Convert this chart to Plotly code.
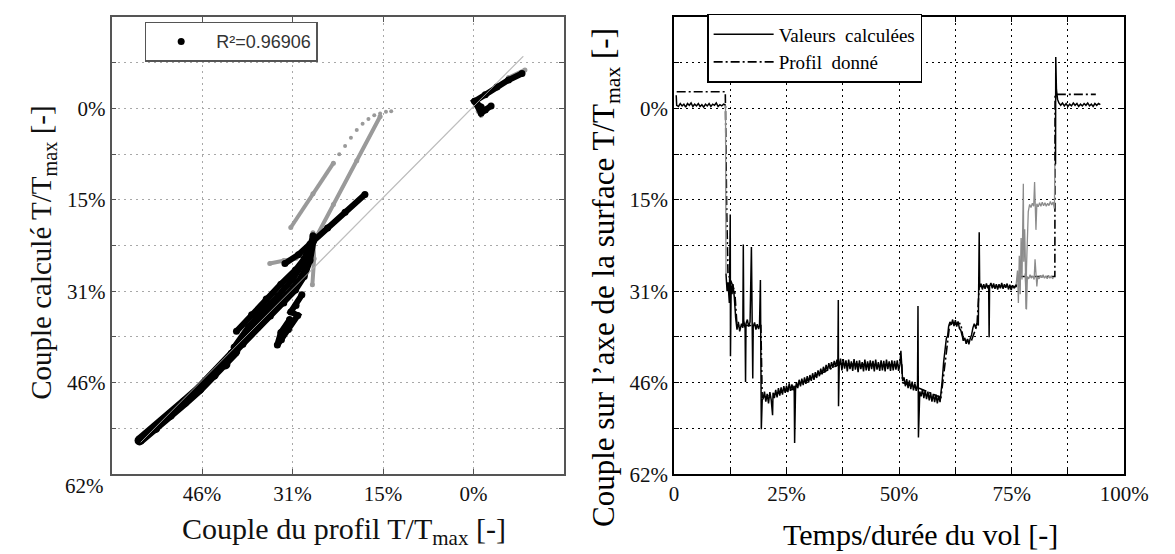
import plotly.graph_objects as go

# ---------------- LEFT PANEL: calculated vs given profile (T/Tmax, %) ----------------
# thick black streak at the low end (profile %, calculated %)
band_x = [57.2, 54.5, 52.0, 49.5, 47.0, 44.5, 42.5, 40.8]
band_y = [56.3, 54.2, 52.0, 49.8, 47.6, 45.2, 43.4, 41.2]
# thinner black streaks, None separates strokes
blk_x = [42.0, 39.5, 37.0, 34.8, 32.5, 30.5, 29.0, 28.0, 27.4, None,
         41.0, 38.5, 36.0, 33.5, 31.0, 29.0, 28.0, 27.5, None,
         40.6, 38.0, 35.5, 33.0, 30.5, 29.0, 28.2, None,
         41.5, 39.0, 36.8, 34.5, 32.0, 30.0, 28.6, None,
         29.4, 30.4, 31.3, 30.1, 31.7, 32.9, 33.6, 33.0, 31.5, None,
         32.3, 30.0, 28.0, 25.0, 22.0, 18.6, None,
         -1.3, -0.2, -2.0, -4.0, -6.0, -8.3, None,
         -0.2, -1.3, -2.0, -3.0]
blk_y = [42.5, 40.0, 37.2, 35.2, 33.0, 30.8, 28.5, 25.8, 22.5, None,
         40.5, 37.0, 34.2, 31.8, 29.0, 26.0, 23.5, 21.6, None,
         37.8, 35.0, 32.3, 29.8, 27.4, 25.5, 23.8, None,
         41.5, 38.6, 36.0, 33.9, 31.6, 29.3, 27.0, None,
         31.6, 33.4, 34.5, 35.1, 37.5, 39.2, 40.1, 38.0, 35.8, None,
         26.3, 24.8, 23.0, 20.3, 17.6, 14.6, None,
         -0.2, -1.2, -2.3, -3.6, -4.8, -5.9, None,
         -1.2, 0.8, 0.3, -0.4]
# grey point streaks
gry_x = [34.9, 32.5, 30.4, 27.8, 24.0, 20.0, 16.0, None,
         31.3, 27.5, 24.0, None,
         27.5, 27.3, 27.6, None,
         -0.8, -1.3, None,
         -6.0, -8.8]
gry_y = [26.3, 25.8, 25.4, 23.4, 16.3, 8.9, 1.4, None,
         20.2, 14.5, 9.3, None,
         21.1, 25.5, 29.9, None,
         0.5, 1.2, None,
         -5.2, -6.5]
# sparse grey dots at the top of the upper grey streak
gdot_x = [23.0, 22.0, 21.0, 20.0, 19.0, 18.0, 17.0, 16.0, 15.0, 14.1]
gdot_y = [7.8, 6.4, 5.0, 3.7, 2.6, 1.8, 1.2, 0.9, 0.6, 0.5]
# light reference line
diag_x = [57.0, -8.5]
diag_y = [56.6, -8.8]
r2_label = "R²=0.96906"

# ---------------- RIGHT PANEL: time series ----------------
calc_x = [0.5, 0.6,
          1.0, 1.4, 1.8, 2.2, 2.6, 3.0, 3.4, 3.8, 4.2, 4.6, 5.0, 5.4, 5.8, 6.2, 6.6, 7.0, 7.4, 7.8,
          8.2, 8.6, 9.0, 9.4, 9.8, 10.2, 10.6, 11.0, 11.3, 11.45, None,
          11.55, 11.8, 12.0, 12.3, 12.5, 12.55, 12.7, 12.9, 13.1, 13.4, 13.7, 14.0, 14.3, 14.6, 15.0,
          15.3, 15.4, 15.5, 15.8, 15.9, 16.0, 16.3, 16.6, 16.9, 17.2, 17.3, 17.5, 17.6, 17.9, 18.2,
          18.5, 18.8, 19.0, 19.2, 19.3, 19.4, 19.6,
          19.8, 20.1, 20.4, 20.7, 21.0, 21.3, 21.6, 21.9, 22.0, 22.3, 22.6, 22.9, 23.2, 23.5, 23.8,
          24.1, 24.4, 24.7, 25.0, 25.3, 25.6, 25.9, 26.2, 26.5, 26.7, 26.8, 27.0, 27.2,
          27.5, 27.8, 28.1, 28.4, 28.7, 29.0, 29.3, 29.6, 29.9, 30.2, 30.5, 30.8, 31.1, 31.4, 31.7,
          32.0, 32.3, 32.6, 32.9, 33.2, 33.5, 33.8, 34.1, 34.4, 34.7, 35.0, 35.3, 35.6, 35.9, 36.2,
          36.4, 36.5, 36.55, 36.7, 37.0,
          37.3, 37.6, 37.9, 38.2, 38.5, 38.8, 39.1, 39.4, 39.7, 40.0, 40.3, 40.6, 40.9, 41.2, 41.5,
          41.8, 42.1, 42.4, 42.7, 43.0, 43.3, 43.6, 43.9, 44.2, 44.5, 44.8, 45.1, 45.4, 45.7, 46.0,
          46.3, 46.6, 46.9, 47.2, 47.5, 47.8, 48.1, 48.4, 48.7, 49.0, 49.3, 49.6, 49.9, 50.2,
          50.4, 50.6, 50.8,
          51.1, 51.4, 51.7, 52.0, 52.3, 52.6, 52.9, 53.2, 53.5, 53.8, 54.1, 54.2, 54.3, 54.6,
          54.9, 55.2, 55.5, 55.8, 56.1, 56.4, 56.7, 57.0, 57.3, 57.6, 57.9, 58.2, 58.5, 58.8, 59.1, 59.3,
          59.6, 59.9, 60.2, 60.5, 60.8, 61.0, 61.3,
          61.6, 61.9, 62.2, 62.5, 62.8, 63.1, 63.4, 63.7,
          64.0, 64.3, 64.6, 64.9, 65.2, 65.5, 65.8, 66.1, 66.4, 66.7, 67.0, 67.3, 67.6,
          67.7, 67.8, 67.9, 68.2, 68.5, 68.8, 69.1, 69.4, 69.7, 69.9, 70.0, 70.1, 70.4, 70.7, 71.0,
          71.3, 71.6, 71.9, 72.2, 72.5, 72.8, 73.1, 73.4, 73.7, 74.0, 74.3, 74.6, 74.9, 75.2, 75.6, 76.0,
          None,
          84.75, 84.8, 84.95, 85.2, 85.5,
          85.9, 86.3, 86.7, 87.1, 87.5, 87.9, 88.3, 88.7, 89.1, 89.5, 89.9, 90.3, 90.7, 91.1, 91.5,
          91.9, 92.3, 92.7, 93.1, 93.5, 93.9, 94.3, 94.7]
calc_y = [-2.2, -0.5,
          -0.3, -0.8, -0.4, -0.7, -0.2, -0.8, -0.5, -0.9, -0.3, -0.7, -0.4, -0.8, -0.3, -0.6, -0.2, -0.7, -0.4, -0.8,
          -0.3, -0.7, -0.5, -0.9, -0.3, -0.6, -0.4, -0.7, -0.6, -0.5, None,
          28.0, 31.0, 29.5, 33.0, 18.0, 42.0, 30.0, 31.5, 29.8, 32.0, 35.5, 37.5, 36.2, 37.8, 36.5,
          37.2, 23.1, 36.0, 37.3, 46.4, 36.5, 35.8, 37.0, 36.2, 23.5, 36.5, 45.8, 37.0, 36.3, 37.5,
          36.6, 37.4, 36.8, 29.1, 37.0, 54.4, 49.4,
          49.2, 48.0, 49.7, 48.4, 50.0, 48.1, 49.4, 52.0, 48.2, 49.1, 47.7, 49.0, 47.4, 48.7, 47.3,
          48.5, 47.1, 48.2, 47.0, 48.1, 46.6, 47.9, 46.8, 47.8, 47.0, 56.7, 47.7, 46.4,
          47.4, 46.0, 47.1, 45.8, 46.9, 45.6, 46.7, 45.4, 46.5, 45.2, 46.2, 44.9, 46.0, 44.7, 45.7,
          44.4, 45.4, 44.1, 45.1, 43.8, 44.8, 43.5, 44.5, 43.2, 44.2, 43.0, 44.0, 42.8, 43.8, 42.6,
          43.6, 32.5, 50.5, 43.7, 42.4,
          44.4, 42.5, 44.1, 42.7, 44.6, 42.6, 44.2, 42.9, 44.5, 42.5, 44.3, 42.8, 44.7, 42.7, 44.2,
          43.0, 44.6, 42.6, 44.4, 42.9, 44.5, 42.7, 44.2, 42.8, 44.6, 42.6, 44.3, 43.0, 44.5, 42.7,
          44.4, 42.8, 44.6, 42.6, 44.2, 42.9, 44.5, 42.7, 44.4, 42.8, 44.3, 42.7, 44.5, 43.4,
          41.1, 43.8, 46.2,
          45.6, 47.1, 45.9, 47.4, 46.1, 47.6, 46.3, 47.8, 46.6, 47.9, 46.8, 33.5, 55.8, 48.0,
          48.8, 47.6, 49.1, 47.8, 49.3, 48.0, 49.5, 48.2, 49.7, 48.4, 49.8, 48.5, 50.0, 48.7, 49.8, 48.5,
          46.0, 43.0, 40.5, 39.0, 38.5, 37.0, 36.2,
          36.7, 35.8, 36.9, 35.9, 37.0, 36.1, 37.3, 37.6,
          38.6, 39.4, 38.9, 39.9, 39.1, 40.0, 39.0, 38.4, 37.2, 36.5, 37.2, 36.4, 36.8,
          30.5, 21.0, 30.2, 29.7, 30.7, 29.8, 30.6, 29.7, 30.5, 30.0, 38.8, 30.2, 29.6, 30.5, 29.7,
          30.6, 29.8, 30.7, 29.8, 30.5, 29.6, 30.6, 29.8, 30.4, 29.7, 30.7, 29.9, 30.8, 30.0, 30.5, 29.9,
          None,
          9.5, -8.7, -3.2, -1.5, -0.9,
          -0.5, -0.9, -0.4, -0.8, -0.3, -0.7, -0.4, -0.9, -0.5, -0.8, -0.3, -0.7, -0.4, -0.8, -0.5,
          -0.9, -0.4, -0.7, -0.3, -0.8, -0.5, -0.8, -0.6]
# grey parts of the computed curve
grey_x = [11.45, 11.5, 11.55, None,
          76.0, 76.3, 76.5, 76.7, 76.9, 77.1, 77.3, 77.5, 77.6, 77.7, 77.9, 78.0, 78.2, 78.3, 78.5,
          78.7, 79.0, 79.3, 79.6, 79.9, 80.1, 80.2, 80.4, 80.6, 80.9, 81.2, 81.5, 81.8, 82.1, 82.4,
          82.7, 83.0, 83.3, 83.6, 83.9, 84.2, 84.4, 84.5, 84.6, None,
          78.0, 78.3, 78.5, 78.8, 79.1, 79.4, 79.7, 80.0, 80.2, 80.4, 80.6, 80.8, 81.1, 81.4, 81.7,
          82.0, 82.3, 82.6, 82.9, 83.2, 83.5, 83.8, 84.1, 84.3]
grey_y = [-0.5, 17.0, 28.0, None,
          29.9, 27.5, 33.0, 25.0, 31.5, 22.0, 29.0, 21.5, 12.8, 26.0, 20.5, 24.0, 34.0, 27.0, 19.0,
          17.5, 16.3, 16.8, 16.1, 16.6, 12.5, 16.4, 20.6, 16.2, 16.7, 16.0, 16.6, 15.9, 16.5, 16.0,
          16.6, 16.1, 16.5, 15.8, 16.4, 15.9, 16.4, 17.0, 9.5, None,
          28.0, 34.1, 28.5, 28.9, 28.2, 28.8, 28.4, 29.0, 25.6, 28.6, 30.2, 28.5, 28.9, 28.3, 28.7,
          28.2, 28.8, 28.4, 28.9, 28.3, 28.8, 28.4, 28.9, 28.6]
# given profile (dash-dot)
prof_x = [0.6, 11.4, 11.7, 12.0, 13.5, 14.0, 19.3, 19.6, 26.8, 27.2, 37.0, 50.6, 50.8, 54.6,
          59.3, 61.3, 63.7, 64.3, 66.1, 67.3, 67.8, 76.0, 76.3, 84.6, 84.65, 86.0, 93.7]
prof_y = [-2.8, -2.8, 16.7, 28.0, 31.0, 36.8, 36.8, 49.0, 47.5, 47.0, 43.3, 43.5, 46.5, 47.5,
          49.0, 36.3, 36.5, 39.3, 39.3, 36.8, 30.2, 30.2, 28.5, 28.5, -2.35, -2.35, -2.35]

# axis ticks
pct_vals = [-7.75, 0, 7.75, 15.5, 23.25, 31, 38.75, 46.5, 54.25, 62]
pct_text = ["", "0%", "", "15%", "", "31%", "", "46%", "", "62%"]
time_vals = [0, 12.5, 25, 37.5, 50, 62.5, 75, 87.5, 100]
time_text = ["0", "", "25%", "", "50%", "", "75%", "", "100%"]
prof_tick_vals = [46.5, 31, 15.5, 0]
prof_tick_text = ["46%", "31%", "15%", "0%"]

W, H = 1175, 554
SERIF = "Liberation Serif, Times New Roman, serif"

fig = go.Figure()

# left panel traces
fig.add_trace(go.Scatter(x=diag_x, y=diag_y, mode="lines", line=dict(color="#c4c4c4", width=1.3),
                         xaxis="x", yaxis="y", showlegend=False, hoverinfo="skip"))
fig.add_trace(go.Scatter(x=gry_x, y=gry_y, mode="lines+markers", line=dict(color="#9a9a9a", width=4),
                         marker=dict(color="#9a9a9a", size=5), xaxis="x", yaxis="y", showlegend=False))
fig.add_trace(go.Scatter(x=gdot_x, y=gdot_y, mode="markers", marker=dict(color="#9a9a9a", size=4),
                         xaxis="x", yaxis="y", showlegend=False))
fig.add_trace(go.Scatter(x=band_x, y=band_y, mode="lines+markers", line=dict(color="black", width=10),
                         marker=dict(color="black", size=10),
                         xaxis="x", yaxis="y", showlegend=False))
fig.add_trace(go.Scatter(x=blk_x, y=blk_y, mode="lines", line=dict(color="black", width=6),
                         xaxis="x", yaxis="y", showlegend=False))
fig.add_trace(go.Scatter(x=blk_x, y=blk_y, mode="markers", marker=dict(color="black", size=7),
                         name=r2_label, xaxis="x", yaxis="y", legend="legend2"))
fig.add_trace(go.Scatter(x=diag_x, y=diag_y, mode="lines", line=dict(color="#bdbdbd", width=1),
                         xaxis="x", yaxis="y", showlegend=False, hoverinfo="skip", opacity=0.8))

# right panel traces
fig.add_trace(go.Scatter(x=prof_x, y=prof_y, mode="lines", name="Profil  donné",
                         line=dict(color="black", width=1.6, dash="9px,3px,2px,3px"),
                         xaxis="x2", yaxis="y2", legend="legend", legendrank=2))
fig.add_trace(go.Scatter(x=grey_x, y=grey_y, mode="lines", line=dict(color="#8c8c8c", width=1.3),
                         xaxis="x2", yaxis="y2", showlegend=False))
fig.add_trace(go.Scatter(x=calc_x, y=calc_y, mode="lines", name="Valeurs  calculées",
                         line=dict(color="black", width=1.5),
                         xaxis="x2", yaxis="y2", legend="legend", legendrank=1))

ydom = [(H - 476.5) / H, (H - 9) / H]
tickfont = dict(family=SERIF, size=21, color="#111")

fig.update_layout(
    width=W, height=H,
    margin=dict(l=0, r=0, t=0, b=0),
    paper_bgcolor="white", plot_bgcolor="white",
    font=dict(family=SERIF),
    xaxis=dict(domain=[101 / W, 565 / W], range=[62, -15.5], tickvals=prof_tick_vals,
               ticktext=prof_tick_text, showgrid=True, gridcolor="#a8a8a8", gridwidth=1.4,
               griddash="2px,4px", zeroline=False, showline=True, linecolor="#555", linewidth=1.5,
               mirror="ticks", ticks="inside", ticklen=5, tickcolor="#555", tickfont=tickfont,
               anchor="y"),
    yaxis=dict(domain=ydom, range=[62, -15.5], tickvals=pct_vals[:-1], ticktext=pct_text[:-1],
               showgrid=True, gridcolor="#a8a8a8", gridwidth=1.4, griddash="2px,4px",
               zeroline=False, showline=True, linecolor="#555", linewidth=1.5, mirror="ticks",
               ticks="inside", ticklen=5, tickcolor="#555", tickfont=tickfont, anchor="x"),
    xaxis2=dict(domain=[677.7 / W, 1139.3 / W], range=[0, 100], tickvals=time_vals,
                ticktext=time_text, showgrid=True, gridcolor="black", gridwidth=1.4,
                griddash="2px,4px", zeroline=False, showline=True, linecolor="black", linewidth=1.6,
                mirror="ticks", ticks="inside", ticklen=5, tickcolor="black", tickfont=tickfont,
                anchor="y2"),
    yaxis2=dict(domain=ydom, range=[62, -15.5], tickvals=pct_vals, ticktext=pct_text,
                showgrid=True, gridcolor="black", gridwidth=1.4, griddash="2px,4px",
                zeroline=False, showline=True, linecolor="black", linewidth=1.6, mirror="ticks",
                ticks="inside", ticklen=5, tickcolor="black", tickfont=tickfont, anchor="x2"),
    legend=dict(x=711.7 / W, y=(H - 6) / H, xanchor="left", yanchor="top",
                bordercolor="black", borderwidth=1.5, bgcolor="white",
                font=dict(family=SERIF, size=19, color="black"), tracegroupgap=0,
                itemwidth=60),
    legend2=dict(x=135 / W, y=(H - 14) / H, xanchor="left", yanchor="top",
                 bordercolor="#555", borderwidth=1.5, bgcolor="white", itemwidth=60,
                 font=dict(family="Liberation Sans, Arial, sans-serif", size=18, color="#333")),
    annotations=[
        dict(text="Couple calculé T/T<sub>max</sub> [-]", x=30 / W, y=(H - 250) / H,
             xref="paper", yref="paper", textangle=-90, showarrow=False,
             font=dict(family=SERIF, size=29, color="#111"), xanchor="center", yanchor="middle"),
        dict(text="Couple du profil T/T<sub>max</sub> [-]", x=339 / W, y=(H - 535) / H,
             xref="paper", yref="paper", showarrow=False,
             font=dict(family=SERIF, size=30, color="#111"), xanchor="center", yanchor="middle"),
        dict(text="62%", x=73 / W, y=(H - 489) / H, xref="paper", yref="paper", showarrow=False,
             font=tickfont, xanchor="center", yanchor="middle"),
        dict(text="Couple sur l’axe de la surface T/T<sub>max</sub> [-]", x=608 / W,
             y=(H - 275) / H, xref="paper", yref="paper", textangle=-90, showarrow=False,
             font=dict(family=SERIF, size=31, color="black"), xanchor="center", yanchor="middle"),
        dict(text="Temps/durée du vol [-]", x=930 / W, y=(H - 538) / H,
             xref="paper", yref="paper", showarrow=False,
             font=dict(family=SERIF, size=30, color="black"), xanchor="center", yanchor="middle"),
    ],
)

fig.write_html("out.html")
